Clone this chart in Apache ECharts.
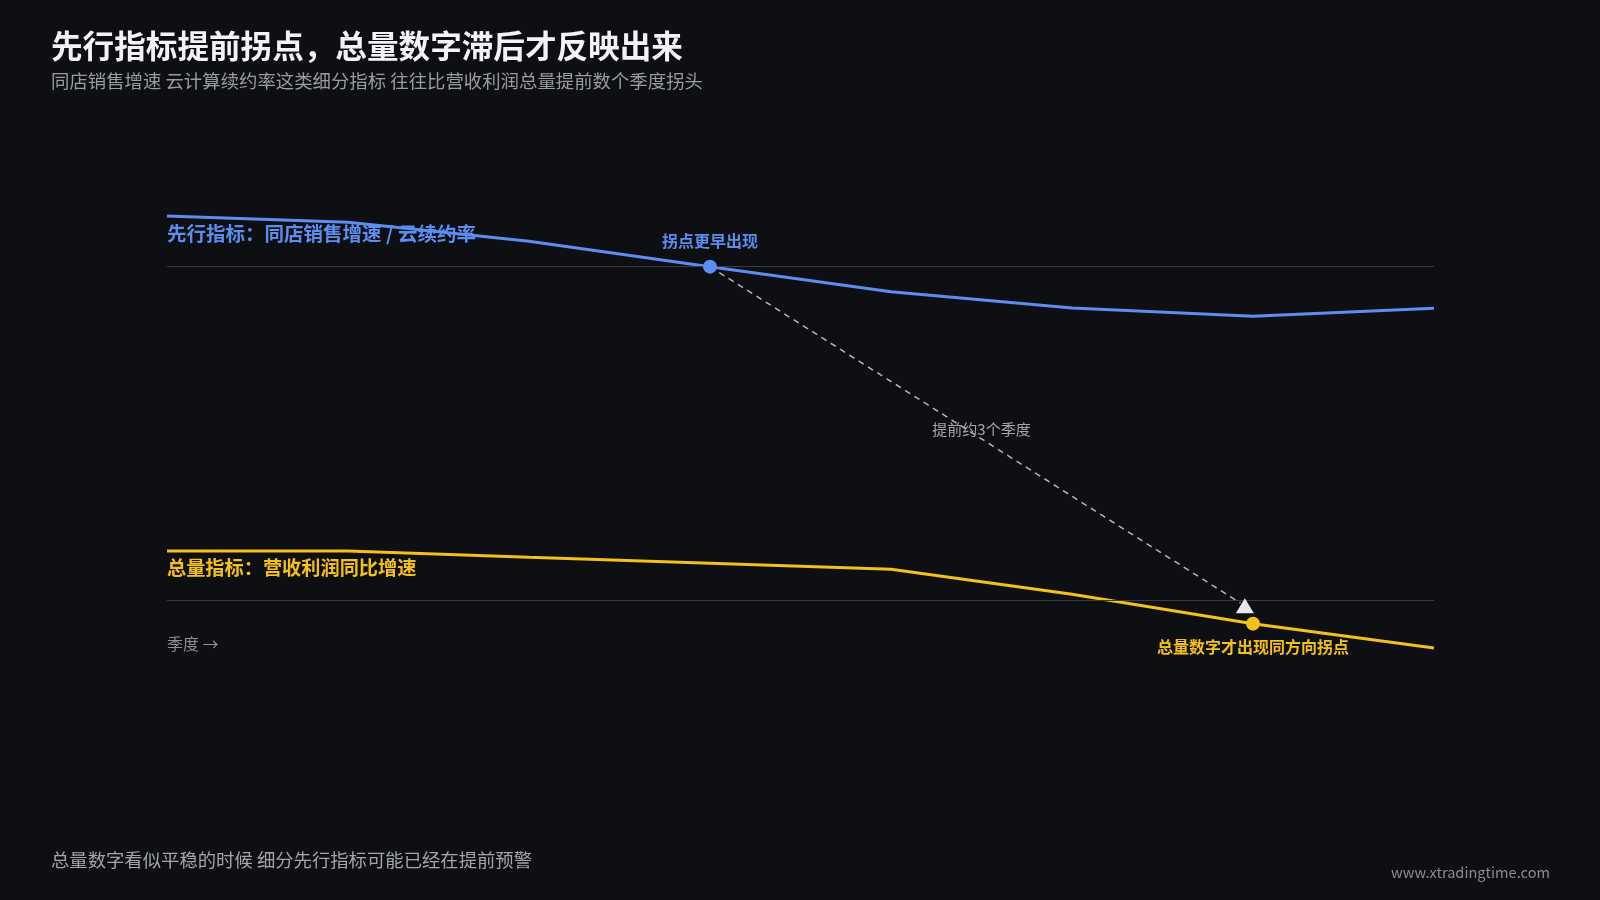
<!DOCTYPE html>
<html>
<head>
<meta charset="utf-8">
<script src="https://cdn.jsdelivr.net/npm/echarts@6/dist/echarts.min.js"></script>
<style>
html,body{margin:0;padding:0;background:#0e0f13;}
#chart{width:1600px;height:900px;}
</style>
</head>
<body>
<div id="chart"></div>
<script>
// ---- data ----
const quarters = ['Q1','Q2','Q3','Q4','Q5','Q6','Q7','Q8'];
const leadingValues = [115.2, 113.3, 107.6, 100.0, 92.5, 87.6, 85.1, 87.5];
const aggregateValues = [14.7, 14.7, 12.8, 11.0, 9.2, 1.7, -7.1, -14.4];
const referenceLevels = [100, 0];
const leadTurnIndex = 3;
const aggTurnIndex = 6;
const arrowEnd = [5.93, -0.9];
const arrowHead = [5.955, -1.7];
const arrowLabelAt = [4.5, 51.3];

const texts = {
  title: '先行指标提前拐点，总量数字滞后才反映出来',
  subtitle: '同店销售增速 云计算续约率这类细分指标 往往比营收利润总量提前数个季度拐头',
  leadName: '先行指标：同店销售增速 / 云续约率',
  aggName: '总量指标：营收利润同比增速',
  leadTurn: '拐点更早出现',
  aggTurn: '总量数字才出现同方向拐点',
  gap: '提前约3个季度',
  axisName: '季度 →',
  footer: '总量数字看似平稳的时候 细分先行指标可能已经在提前预警',
  site: 'www.xtradingtime.com'
};

const BLUE = '#5b8ef0';
const YELLOW = '#f4c01a';
const FONT = '"Noto Sans CJK SC", "Noto Sans", sans-serif';

const toPairs = arr => arr.map((v, i) => [i, v]);

const chart = echarts.init(document.getElementById('chart'));
chart.setOption({
  backgroundColor: '#0e0f13',
  animation: false,
  textStyle: { fontFamily: FONT },
  grid: { left: 167, right: 166, top: 200, bottom: 200 },
  xAxis: {
    type: 'value', min: 0, max: quarters.length - 1,
    axisLine: { show: false }, axisTick: { show: false },
    axisLabel: { show: false, formatter: v => quarters[v] }, splitLine: { show: false }
  },
  yAxis: {
    type: 'value', min: -30, max: 120,
    axisLine: { show: false }, axisTick: { show: false },
    axisLabel: { show: false }, splitLine: { show: false }
  },
  graphic: [
    { type: 'text', left: 51, top: 30, style: { text: texts.title, fill: '#f2f3f5', font: 'bold 31.6px ' + FONT } },
    { type: 'text', left: 51, top: 72, style: { text: texts.subtitle, fill: '#9a9ca3', font: '18.4px ' + FONT } },
    { type: 'text', left: 167, top: 224, z: 1, style: { text: texts.leadName, fill: BLUE, font: 'bold 19.5px ' + FONT } },
    { type: 'text', left: 167, top: 558, z: 1, style: { text: texts.aggName, fill: YELLOW, font: 'bold 19.2px ' + FONT } },
    { type: 'text', left: 167, top: 636, style: { text: texts.axisName, fill: '#8e9096', font: '16px ' + FONT } },
    { type: 'text', left: 51, top: 851, style: { text: texts.footer, fill: '#a3a5ab', font: '18.35px ' + FONT } },
    { type: 'text', right: 50, top: 865, style: { text: texts.site, fill: '#8a8c92', font: '14.6px ' + FONT } }
  ],
  series: [
    {
      type: 'line', data: [], z: 1, silent: true,
      markLine: {
        silent: true, symbol: ['none', 'none'], label: { show: false },
        lineStyle: { color: '#3a3b41', width: 1.2, type: 'solid' },
        data: referenceLevels.map(v => ({ yAxis: v }))
      }
    },
    {
      name: texts.leadName, type: 'line', z: 3,
      data: toPairs(leadingValues), symbol: 'none',
      lineStyle: { color: BLUE, width: 3 },
      markLine: {
        silent: true, symbol: ['none', 'none'], label: { show: false },
        lineStyle: { color: '#b4b6bc', width: 1.5, type: [6, 5] },
        data: [[{ coord: [leadTurnIndex, leadingValues[leadTurnIndex]] }, { coord: arrowEnd }]]
      },
      markPoint: {
        silent: true,
        data: [
          { coord: [leadTurnIndex, leadingValues[leadTurnIndex]], symbol: 'circle', symbolSize: 14,
            itemStyle: { color: BLUE },
            label: { show: true, position: 'top', distance: 11, formatter: texts.leadTurn,
                     color: BLUE, fontSize: 16, fontWeight: 'bold', fontFamily: FONT } },
          { coord: arrowHead, symbol: 'triangle', symbolSize: [18, 15],
            itemStyle: { color: '#e8e9ee' }, label: { show: false } },
          { coord: arrowLabelAt, symbol: 'circle', symbolSize: 0,
            label: { show: true, position: 'inside', formatter: texts.gap,
                     color: '#a5a7ad', fontSize: 15, fontFamily: FONT } }
        ]
      }
    },
    {
      name: texts.aggName, type: 'line', z: 3,
      data: toPairs(aggregateValues), symbol: 'none',
      lineStyle: { color: YELLOW, width: 3 },
      markPoint: {
        silent: true,
        data: [
          { coord: [aggTurnIndex, aggregateValues[aggTurnIndex]], symbol: 'circle', symbolSize: 14,
            itemStyle: { color: YELLOW },
            label: { show: true, position: 'bottom', distance: 8, formatter: texts.aggTurn,
                     color: YELLOW, fontSize: 16, fontWeight: 'bold', fontFamily: FONT } }
        ]
      }
    }
  ]
});
</script>
</body>
</html>
